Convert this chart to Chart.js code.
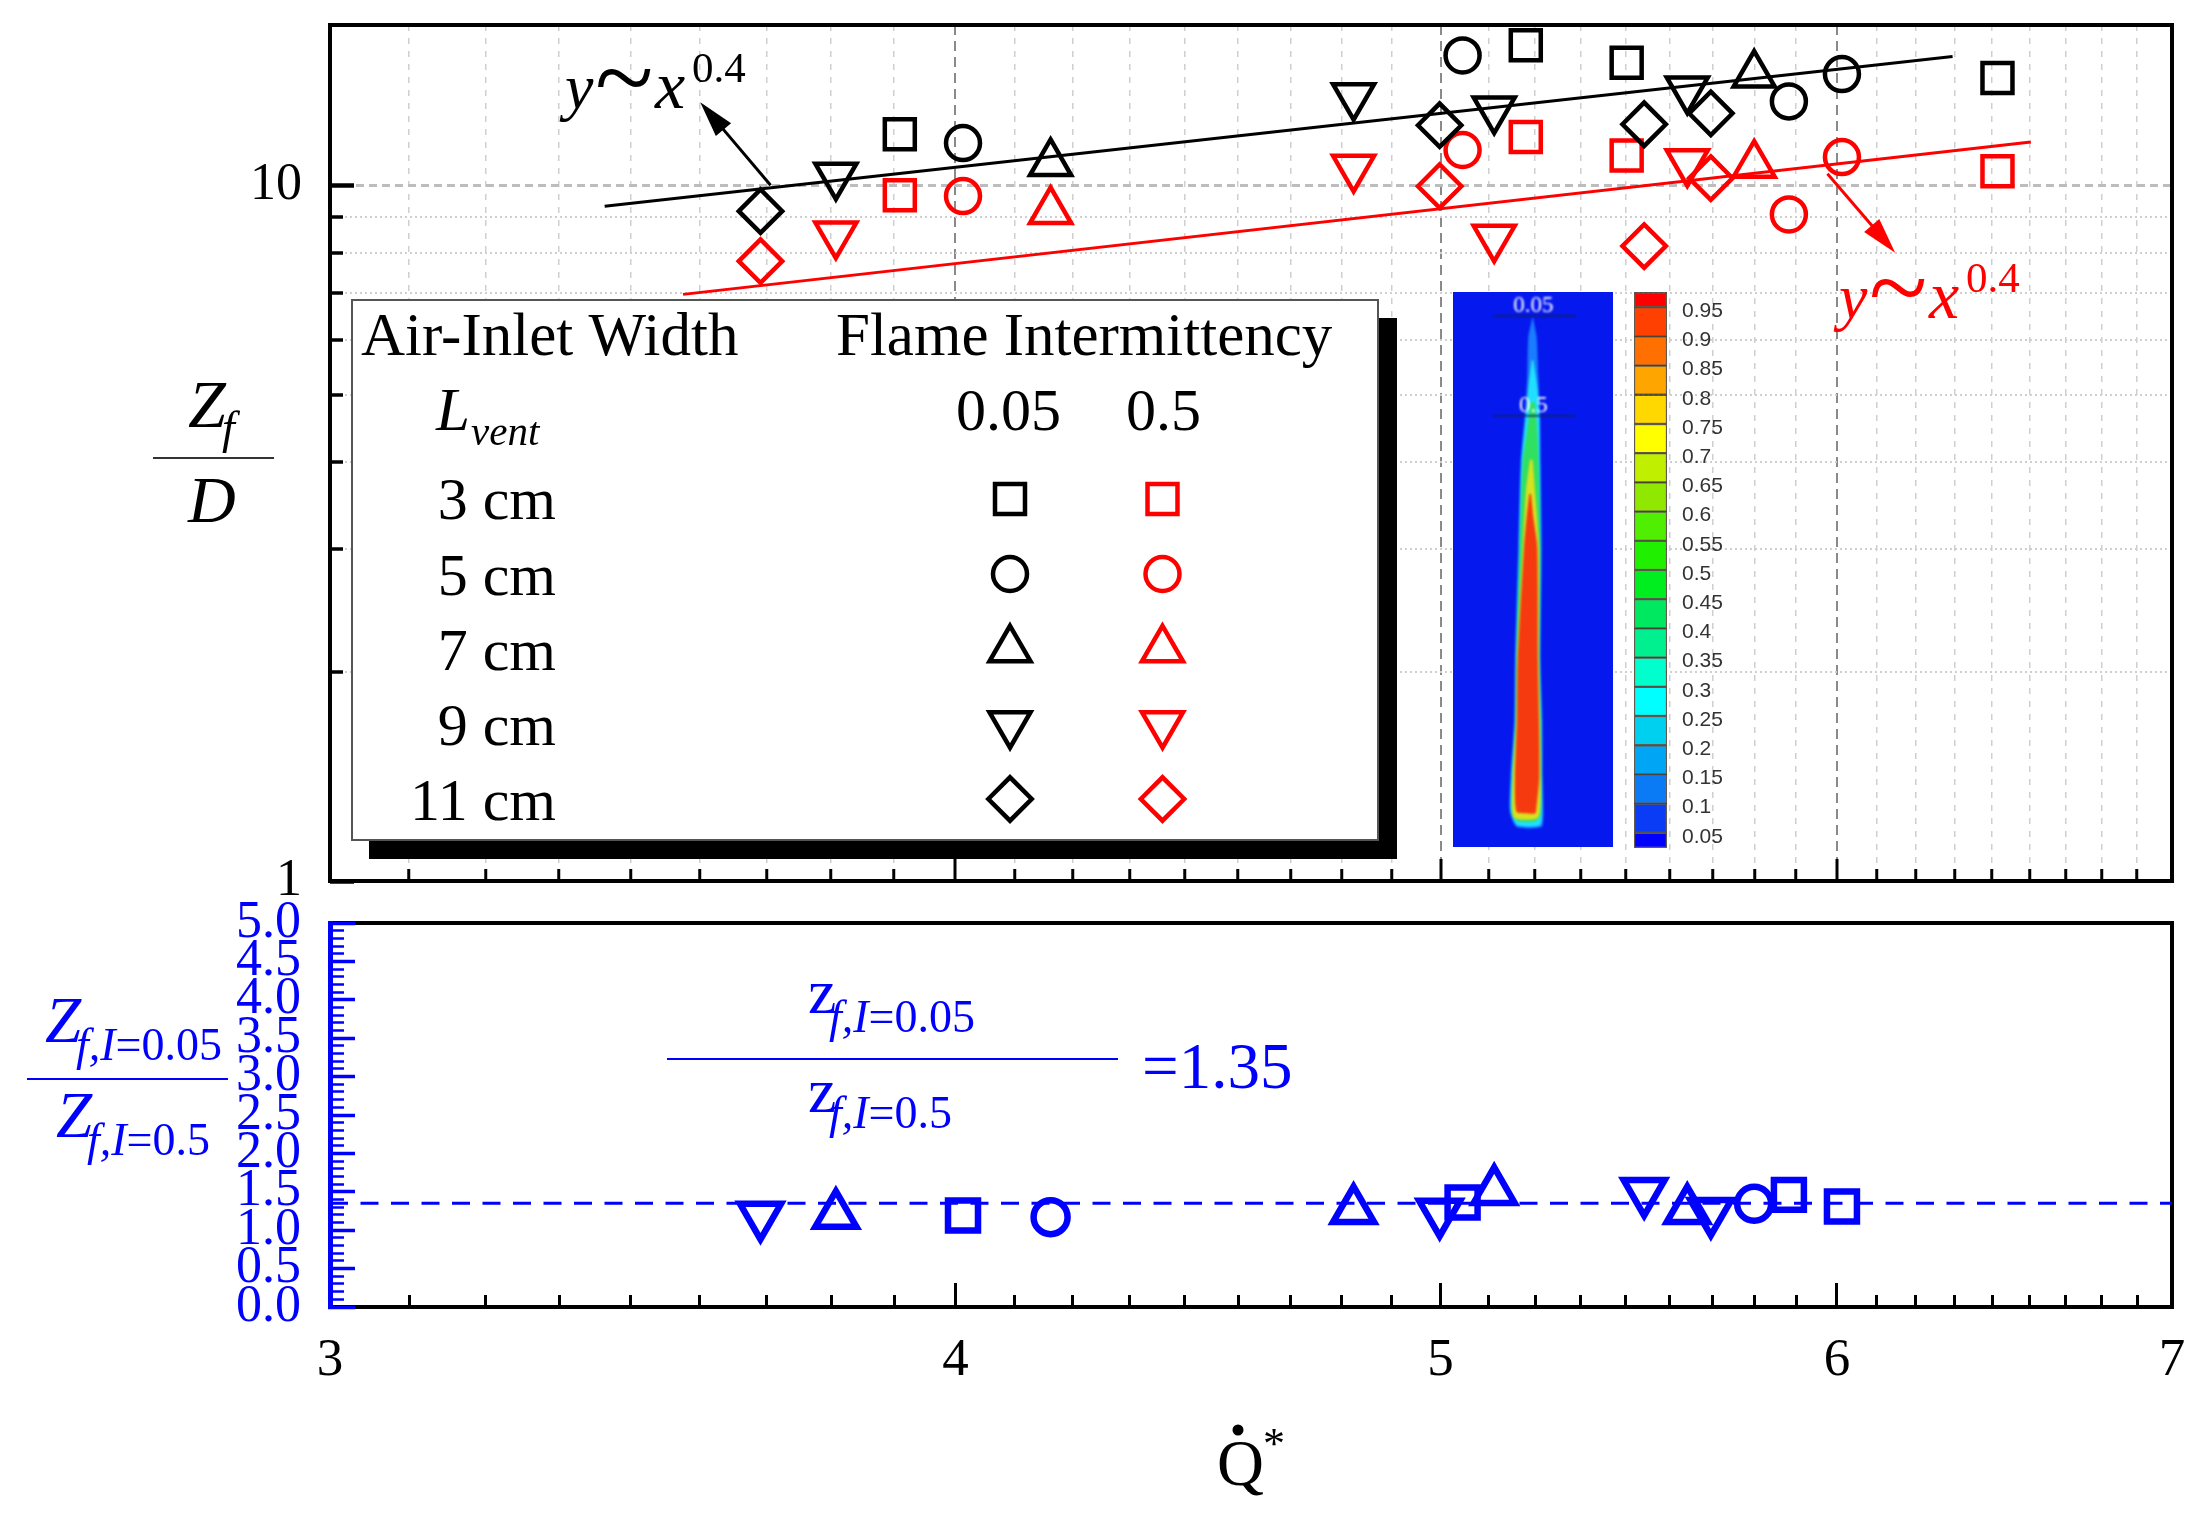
<!DOCTYPE html>
<html>
<head>
<meta charset="utf-8">
<script src="https://cdn.jsdelivr.net/npm/chart.js@4/dist/chart.umd.min.js"></script>
<style>
  html, body { margin: 0; background: #fff; overflow: hidden; width: 2204px; height: 1517px; }
  canvas { position: absolute; }
  #flameBox { position: absolute; left: 1453px; top: 292px; width: 160px; height: 555px; background: #0519ee; overflow: hidden; }
  #flameBox canvas { left: 0; top: 0; filter: blur(1.2px); }
</style>
</head>
<body>
<canvas id="topChart" width="2204" height="930" style="left:0;top:0"></canvas>
<canvas id="lowChart" width="2204" height="617" style="left:0;top:900px"></canvas>
<div id="flameBox"><canvas id="flameChart" width="160" height="555"></canvas></div>
<canvas id="barChart" width="130" height="580" style="left:1620px;top:280px"></canvas>
<script>
// Q* values per air-inlet width
const x3cm = [3.899, 5.200, 5.447, 6.460];
const x5cm = [4.014, 5.051, 5.869, 6.014];
const x7cm = [4.179, 5.776];
const x9cm = [3.786, 4.804, 5.125, 5.601];
const x11cm = [3.657, 4.998, 5.491, 5.662];

// Zf/D, intermittency 0.05
const top3cm = [11.84, 15.9, 15.0, 14.26];
const top5cm = [11.5, 15.37, 13.2, 14.45];
const top7cm = [10.76, 14.42];
const top9cm = [10.33, 13.44, 12.86, 13.74];
const top11cm = [9.18, 12.2, 12.24, 12.69];

// Zf/D, intermittency 0.5
const mid3cm = [9.68, 11.73, 11.04, 10.48];
const mid5cm = [9.65, 11.24, 9.08, 10.98];
const mid7cm = [9.18, 10.7];
const mid9cm = [8.5, 10.6, 8.41, 10.8];
const mid11cm = [7.78, 9.97, 8.18, 10.24];

// fitted lines
const fitTopX = [3.404, 6.328];
const fitTopY = [9.33, 15.32];
const fitMidX = [3.529, 6.56];
const fitMidY = [6.97, 11.54];

// ratio panel
const ratioSquareX = [4.014, 5.051, 5.869, 6.014];
const ratioSquareY = [1.19, 1.36, 1.46, 1.31];
const ratioCircleX = [4.179, 5.776];
const ratioCircleY = [1.17, 1.345];
const ratioUpX = [3.786, 4.804, 5.125, 5.601];
const ratioUpY = [1.20, 1.26, 1.51, 1.26];
const ratioDownX = [3.657, 4.998, 5.491, 5.662];
const ratioDownY = [1.19, 1.23, 1.50, 1.24];
const ratioMean = [1.35, 1.35];
const ratioMeanX = [3, 7];

// ticks
const xLabels = [3, 4, 5, 6, 7];
const xMinorTicks = [];
for (let a = 3; a < 7; a++) for (let b = 1; b < 9; b++) xMinorTicks.push(a + b / 9);
const yMajor = [1, 10];
const yMinor = [2, 3, 4, 5, 6, 7, 8, 9];
const ratioLabels = [0, 0.5, 1, 1.5, 2, 2.5, 3, 3.5, 4, 4.5, 5];
const ratioMinor = [];
for (let a = 0; a < 50; a++) if (a % 5) ratioMinor.push(a / 10);

// inset colour bar
const barEdges = [0.024, 0.05, 0.1, 0.15, 0.2, 0.25, 0.3, 0.35, 0.4, 0.45, 0.5, 0.55, 0.6, 0.65, 0.7, 0.75, 0.8, 0.85, 0.9, 0.95, 0.976];
const barColors = ["#0000ff", "#0a3cf5", "#0a7bf5", "#00a5f5", "#00d0f0", "#00ffff", "#00ffcc", "#00f090", "#00e860", "#00ee20", "#20f000", "#50ee00", "#90e800", "#c0f000", "#ffff00", "#ffd800", "#ffa500", "#ff7000", "#ff4000", "#ff0000"];
const barTicks = [0.05, 0.1, 0.15, 0.2, 0.25, 0.3, 0.35, 0.4, 0.45, 0.5, 0.55, 0.6, 0.65, 0.7, 0.75, 0.8, 0.85, 0.9, 0.95];

// inset flame contours (height, left edge, right edge)
const plumeH = [100, 150, 250, 350, 480, 700, 1000, 1150, 1300, 1390, 1430];
const plumeL = [337, 325, 322, 315, 302, 295, 285, 283, 272, 270, 290];
const plumeR = [339, 350, 355, 360, 362, 365, 362, 367, 368, 370, 365];
const cyanH = [210, 280, 350, 480, 700, 1000, 1150, 1300, 1390, 1425];
const cyanL = [335, 325, 318, 304, 297, 287, 285, 274, 272, 292];
const cyanR = [340, 352, 358, 360, 363, 360, 365, 366, 367, 360];
const greenH = [320, 400, 480, 700, 1000, 1150, 1300, 1400, 1415];
const greenL = [332, 320, 308, 299, 289, 287, 277, 276, 295];
const greenR = [345, 352, 356, 361, 358, 362, 364, 362, 345];
const yellowH = [470, 550, 700, 1000, 1150, 1300, 1405];
const yellowL = [330, 318, 308, 291, 289, 279, 282];
const yellowR = [338, 345, 357, 357, 360, 362, 355];
const redH = [560, 620, 700, 1000, 1150, 1300, 1390, 1395];
const redL = [328, 320, 312, 293, 291, 285, 290, 330];
const redR = [333, 340, 352, 354, 357, 358, 348, 345];

const SERIF = '"Liberation Serif"';
const BLUE = "#0000ff";
const RED = "#ff0000";

const toPoints = (xs, ys) => xs.map((x, i) => ({ x, y: ys[i] }));

// radius for each marker so they keep the same visual size
const markers = {
  square: { pointStyle: "rect", r: 21.2 },
  circle: { pointStyle: "circle", r: 17 },
  up: { pointStyle: "triangle", r: 23.7 },
  down: { pointStyle: "triangle", r: 23.7, rotation: 180 },
  diamond: { pointStyle: "rectRot", r: 21.7 }
};

function markerSet(xs, ys, kind, color, lw) {
  const m = markers[kind];
  return {
    data: toPoints(xs, ys),
    showLine: false,
    clip: false,
    pointStyle: m.pointStyle,
    pointRotation: m.rotation || 0,
    pointRadius: m.r,
    pointBorderWidth: lw,
    pointBorderColor: color,
    pointBackgroundColor: "transparent"
  };
}

function lineSet(xs, ys, color, lw, dash) {
  return {
    data: toPoints(xs, ys),
    showLine: true,
    clip: false,
    borderColor: color,
    borderWidth: lw,
    borderDash: dash || [],
    pointRadius: 0
  };
}

function put(ctx, str, x, y, font, color, align) {
  ctx.font = font;
  ctx.fillStyle = color;
  ctx.textAlign = align || "left";
  ctx.textBaseline = "alphabetic";
  ctx.fillText(str, x, y);
}

// text made of several runs with different fonts
function runs(ctx, x, y, color, parts) {
  parts.forEach(([str, font]) => {
    put(ctx, str, x, y, font, color);
    x += ctx.measureText(str).width;
  });
}

function rule(ctx, x1, x2, y, color, lw) {
  ctx.strokeStyle = color;
  ctx.lineWidth = lw;
  ctx.setLineDash([]);
  ctx.beginPath();
  ctx.moveTo(x1, y);
  ctx.lineTo(x2, y);
  ctx.stroke();
}

function arrow(chart, from, to, color) {
  const { x: sx, y: sy } = chart.scales;
  const ctx = chart.ctx;
  const x1 = sx.getPixelForValue(from[0]), y1 = sy.getPixelForValue(from[1]);
  const x2 = sx.getPixelForValue(to[0]), y2 = sy.getPixelForValue(to[1]);
  const a = Math.atan2(y2 - y1, x2 - x1);
  ctx.save();
  ctx.strokeStyle = color;
  ctx.fillStyle = color;
  ctx.lineWidth = 3;
  ctx.beginPath();
  ctx.moveTo(x1, y1);
  ctx.lineTo(x2 - 20 * Math.cos(a), y2 - 20 * Math.sin(a));
  ctx.stroke();
  ctx.translate(x2, y2);
  ctx.rotate(a);
  ctx.beginPath();
  ctx.moveTo(0, 0);
  ctx.lineTo(-36, -10);
  ctx.lineTo(-36, 10);
  ctx.closePath();
  ctx.fill();
  ctx.restore();
}

function frame(chart) {
  const { left, top, right, bottom } = chart.chartArea;
  const ctx = chart.ctx;
  ctx.save();
  ctx.strokeStyle = "#000";
  ctx.lineWidth = 4;
  ctx.strokeRect(left, top, right - left, bottom - top);
  ctx.restore();
}

function powerNote(ctx, x, y, color) {
  put(ctx, "y", x, y, `italic 64px ${SERIF}`, color);
  put(ctx, "~", x + 30, y + 6, `108px ${SERIF}`, color);
  put(ctx, "x", x + 90, y, `italic 68px ${SERIF}`, color);
  put(ctx, "0.4", x + 127, y - 26, `43px ${SERIF}`, color);
}

function legendBox(ctx) {
  ctx.fillStyle = "#000";
  ctx.fillRect(369, 318, 1028, 541);
  ctx.fillStyle = "#fff";
  ctx.fillRect(352, 300, 1026, 540);
  ctx.strokeStyle = "#555";
  ctx.lineWidth = 2;
  ctx.strokeRect(352, 300, 1026, 540);

  put(ctx, "Air-Inlet Width", 361, 355, `61px ${SERIF}`, "#000");
  put(ctx, "Flame Intermittency", 836, 355, `61px ${SERIF}`, "#000");
  put(ctx, "L", 436, 430, `italic 61px ${SERIF}`, "#000");
  put(ctx, "vent", 471, 445, `italic 41px ${SERIF}`, "#000");
  put(ctx, "0.05", 956, 430, `60px ${SERIF}`, "#000");
  put(ctx, "0.5", 1126, 430, `60px ${SERIF}`, "#000");

  const rows = [
    ["3 cm", 519, "square", 499],
    ["5 cm", 595, "circle", 574],
    ["7 cm", 670, "up", 649.5],
    ["9 cm", 745, "down", 724],
    ["11 cm", 820, "diamond", 799]
  ];
  rows.forEach(([label, base, kind, my]) => {
    put(ctx, label, 556, base, `60px ${SERIF}`, "#000", "right");
    [[1010, "#000"], [1162.5, RED]].forEach(([mx, color]) => {
      const m = markers[kind];
      ctx.strokeStyle = color;
      ctx.lineWidth = 4.5;
      ctx.fillStyle = "transparent";
      Chart.helpers.drawPoint(ctx, { pointStyle: m.pointStyle, rotation: m.rotation || 0, radius: m.r, borderWidth: 4.5 }, mx, my);
    });
  });
}

const topDecor = {
  id: "topDecor",
  beforeDatasetsDraw: frame,
  afterDatasetsDraw(chart) {
    const ctx = chart.ctx;
    ctx.save();
    // y label
    put(ctx, "Z", 188, 427, `italic 68px ${SERIF}`, "#000");
    put(ctx, "f", 222, 443, `italic 46px ${SERIF}`, "#000");
    rule(ctx, 153, 274, 458, "#333", 2);
    put(ctx, "D", 188, 522, `italic 66px ${SERIF}`, "#000");
    // trend notes
    powerNote(ctx, 565, 108, "#000");
    powerNote(ctx, 1839, 318, RED);
    arrow(chart, [3.674, 10], [3.557, 13.17], "#000");
    arrow(chart, [5.974, 10.39], [6.163, 8.0], RED);
    legendBox(ctx);
    ctx.restore();
  }
};

const lowDecor = {
  id: "lowDecor",
  beforeDraw: frame,
  afterDatasetsDraw(chart) {
    const ctx = chart.ctx;
    ctx.save();
    ctx.translate(0, -900);
    const it = (px) => `italic ${px}px ${SERIF}`;
    const up = (px) => `${px}px ${SERIF}`;
    // y label
    put(ctx, "Z", 45, 1042, it(65), BLUE);
    runs(ctx, 76, 1060, BLUE, [["f,I", it(46)], ["=0.05", up(46)]]);
    rule(ctx, 27, 228, 1079, BLUE, 2);
    put(ctx, "Z", 56, 1137, it(65), BLUE);
    runs(ctx, 87, 1155, BLUE, [["f,I", it(46)], ["=0.5", up(46)]]);
    // mean ratio note
    put(ctx, "z", 808, 1013, up(64), BLUE);
    runs(ctx, 829, 1032, BLUE, [["f,I", it(46)], ["=0.05", up(46)]]);
    rule(ctx, 667, 1118, 1059, BLUE, 2);
    put(ctx, "z", 808, 1112, up(64), BLUE);
    runs(ctx, 829, 1128, BLUE, [["f,I", it(46)], ["=0.5", up(46)]]);
    put(ctx, "=1.35", 1142, 1088, up(65), BLUE);
    // x title
    put(ctx, "Q", 1217, 1485, up(65), "#000");
    ctx.fillStyle = "#000";
    ctx.beginPath();
    ctx.arc(1238, 1430, 5.5, 0, Math.PI * 2);
    ctx.fill();
    put(ctx, "*", 1263, 1458, up(44), "#000");
    ctx.restore();
  }
};

// one axis holds the majors and labels, a second one at the same place the minors
function ticksOnly(values) {
  return (axis) => { axis.ticks = values.map((value) => ({ value })); };
}

// the plot box is fixed, so labels must not add any layout padding
function fixSize(prop, size) {
  return (s) => {
    s[prop] = size;
    s.paddingLeft = s.paddingRight = s.paddingTop = s.paddingBottom = 0;
  };
}

const edgeless = (ends, color) => (c) => (ends.includes(c.tick && c.tick.value) ? "transparent" : color);

new Chart(document.getElementById("topChart"), {
  type: "scatter",
  plugins: [topDecor],
  data: {
    datasets: [
      lineSet(fitTopX, fitTopY, "#000", 3),
      lineSet(fitMidX, fitMidY, RED, 3),
      markerSet(x3cm, top3cm, "square", "#000", 4.5),
      markerSet(x5cm, top5cm, "circle", "#000", 4.5),
      markerSet(x7cm, top7cm, "up", "#000", 4.5),
      markerSet(x9cm, top9cm, "down", "#000", 4.5),
      markerSet(x11cm, top11cm, "diamond", "#000", 4.5),
      markerSet(x3cm, mid3cm, "square", RED, 4.5),
      markerSet(x5cm, mid5cm, "circle", RED, 4.5),
      markerSet(x7cm, mid7cm, "up", RED, 4.5),
      markerSet(x9cm, mid9cm, "down", RED, 4.5),
      markerSet(x11cm, mid11cm, "diamond", RED, 4.5)
    ]
  },
  options: {
    responsive: false,
    animation: false,
    devicePixelRatio: 1,
    layout: { autoPadding: false, padding: { top: 25, right: 32 } },
    plugins: { legend: { display: false }, tooltip: { enabled: false } },
    scales: {
      xMinor: {
        type: "logarithmic", position: "bottom", min: 3, max: 7, weight: -1,
        afterBuildTicks: ticksOnly(xMinorTicks),
        afterFit: fixSize("height", 0),
        ticks: { display: false, autoSkip: false },
        border: { display: false, dash: [6, 7] },
        grid: { color: "#cfcfcf", lineWidth: 1.5, tickColor: "#000", tickWidth: 3, tickLength: -12 }
      },
      x: {
        type: "logarithmic", position: "bottom", min: 3, max: 7,
        afterBuildTicks: ticksOnly(xLabels),
        afterFit: fixSize("height", 49),
        ticks: { display: false, autoSkip: false },
        border: { display: false, dash: [10, 6] },
        grid: { color: edgeless([3, 7], "#8a8a8a"), lineWidth: 2, tickColor: "#000", tickWidth: 3, tickLength: -22 }
      },
      yMinor: {
        type: "logarithmic", position: "left", min: 1, max: 17, weight: -1,
        afterBuildTicks: ticksOnly(yMinor),
        afterFit: fixSize("width", 0),
        ticks: { display: false, autoSkip: false },
        border: { display: false, dash: [2, 3] },
        grid: { color: "#cfcfcf", lineWidth: 2, tickColor: "#000", tickWidth: 3.5, tickLength: -13 }
      },
      y: {
        type: "logarithmic", position: "left", min: 1, max: 17,
        afterBuildTicks: ticksOnly(yMajor),
        afterFit: fixSize("width", 330),
        ticks: {
          autoSkip: false, padding: 52, color: "#000",
          font: { family: "Liberation Serif", size: 52 },
          callback: (v) => String(v)
        },
        border: { display: false, dash: [8, 5] },
        grid: { color: edgeless([1], "#bdbdbd"), lineWidth: 3, tickColor: "#000", tickWidth: 4.5, tickLength: -24 }
      }
    }
  }
});

new Chart(document.getElementById("lowChart"), {
  type: "scatter",
  plugins: [lowDecor],
  data: {
    datasets: [
      markerSet(ratioSquareX, ratioSquareY, "square", BLUE, 6.5),
      markerSet(ratioCircleX, ratioCircleY, "circle", BLUE, 6.5),
      markerSet(ratioUpX, ratioUpY, "up", BLUE, 6.5),
      markerSet(ratioDownX, ratioDownY, "down", BLUE, 6.5),
      lineSet(ratioMeanX, ratioMean, BLUE, 3, [18, 12.5])
    ]
  },
  options: {
    responsive: false,
    animation: false,
    devicePixelRatio: 1,
    layout: { autoPadding: false, padding: { top: 23, right: 32 } },
    plugins: { legend: { display: false }, tooltip: { enabled: false } },
    scales: {
      xMinor: {
        type: "logarithmic", position: "bottom", min: 3, max: 7, weight: -1,
        afterBuildTicks: ticksOnly(xMinorTicks),
        afterFit: fixSize("height", 0),
        ticks: { display: false, autoSkip: false },
        border: { display: false },
        grid: { drawOnChartArea: false, tickColor: "#000", tickWidth: 3, tickLength: -12 }
      },
      x: {
        type: "logarithmic", position: "bottom", min: 3, max: 7,
        afterBuildTicks: ticksOnly(xLabels),
        afterFit: fixSize("height", 210),
        ticks: {
          autoSkip: false, maxRotation: 0, padding: 46, color: "#000",
          font: { family: "Liberation Serif", size: 53 },
          callback: (v) => String(v)
        },
        border: { display: false },
        grid: { drawOnChartArea: false, tickColor: "#000", tickWidth: 3, tickLength: -24 }
      },
      yMinor: {
        type: "linear", position: "left", min: 0, max: 5, weight: -1,
        afterBuildTicks: ticksOnly(ratioMinor),
        afterFit: fixSize("width", 0),
        ticks: { display: false, autoSkip: false },
        border: { display: false },
        grid: { drawOnChartArea: false, tickColor: BLUE, tickWidth: 2.5, tickLength: -14 }
      },
      y: {
        type: "linear", position: "left", min: 0, max: 5,
        afterBuildTicks: ticksOnly(ratioLabels),
        afterFit: fixSize("width", 330),
        ticks: {
          autoSkip: false, padding: 54, color: BLUE,
          font: { family: "Liberation Serif", size: 52 },
          callback: (v) => v.toFixed(1)
        },
        border: { display: true, color: BLUE, width: 5 },
        grid: { drawOnChartArea: false, tickColor: BLUE, tickWidth: 3.5, tickLength: -25 }
      }
    }
  }
});

// colour bar of the inset
new Chart(document.getElementById("barChart"), {
  type: "bar",
  data: {
    labels: ["I"],
    datasets: barColors.map((color, i) => ({
      data: [[barEdges[i], barEdges[i + 1]]],
      backgroundColor: color,
      borderColor: "rgba(45,35,20,0.75)",
      borderWidth: 1.5,
      borderSkipped: false,
      grouped: false,
      barPercentage: 1,
      categoryPercentage: 1
    }))
  },
  options: {
    responsive: false,
    animation: false,
    devicePixelRatio: 1,
    layout: { autoPadding: false, padding: { left: 14, top: 12, bottom: 12 } },
    plugins: { legend: { display: false }, tooltip: { enabled: false } },
    scales: {
      x: { display: false },
      y: {
        position: "right", min: 0.024, max: 0.976,
        afterBuildTicks: ticksOnly(barTicks),
        afterFit: fixSize("width", 83),
        ticks: {
          autoSkip: false, padding: 15, labelOffset: 4, color: "#333",
          font: { family: "Liberation Sans", size: 21 },
          callback: (v) => String(Math.round(v * 100) / 100)
        },
        border: { display: false },
        grid: { display: false, drawTicks: false }
      }
    }
  }
});

// flame contours of the inset
function contour(heights, lefts, rights, color) {
  const points = heights.map((y, i) => ({ x: lefts[i], y }))
    .concat(heights.map((y, i) => ({ x: rights[i], y })).reverse());
  return { data: points, backgroundColor: color, borderWidth: 0, pointRadius: 0, fill: "shape", tension: 0.2 };
}

const flameNotes = {
  id: "flameNotes",
  afterDatasetsDraw(chart) {
    const { x, y } = chart.scales;
    put(chart.ctx, "0.05", x.getPixelForValue(340), y.getPixelForValue(84), `23px ${SERIF}`, "#fff", "center");
    put(chart.ctx, "0.5", x.getPixelForValue(340), y.getPixelForValue(345), `23px ${SERIF}`, "#fff", "center");
  }
};

new Chart(document.getElementById("flameChart"), {
  type: "line",
  plugins: [flameNotes],
  data: {
    datasets: [
      { data: [{ x: 220, y: 94 }, { x: 465, y: 94 }], borderColor: "#102060", borderWidth: 1.5, pointRadius: 0 },
      { data: [{ x: 220, y: 355 }, { x: 465, y: 355 }], borderColor: "#102060", borderWidth: 1.5, pointRadius: 0 },
      contour(redH, redL, redR, "#f63a10"),
      contour(yellowH, yellowL, yellowR, "#d8e020"),
      contour(greenH, greenL, greenR, "#30e060"),
      contour(cyanH, cyanL, cyanR, "#20e0ff"),
      contour(plumeH, plumeL, plumeR, "#1a7cff")
    ]
  },
  options: {
    responsive: false,
    animation: false,
    devicePixelRatio: 1,
    layout: { autoPadding: false },
    plugins: { legend: { display: false }, tooltip: { enabled: false } },
    scales: {
      x: { type: "linear", display: false, min: 100, max: 578 },
      y: { type: "linear", display: false, min: 32, max: 1482, reverse: true }
    }
  }
});
</script>
</body>
</html>
